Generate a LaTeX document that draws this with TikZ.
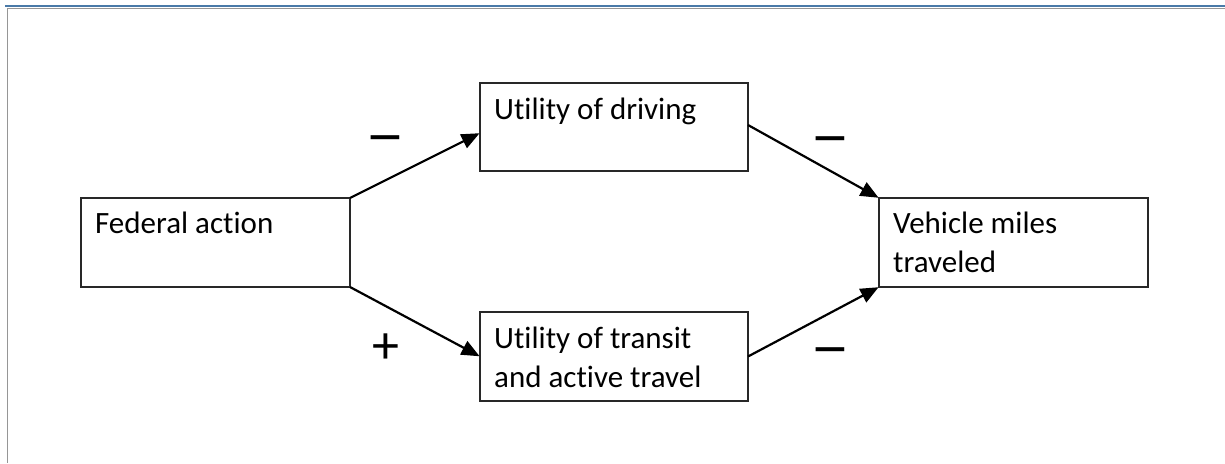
\documentclass[tikz,border=0pt]{standalone}
\usepackage{fontspec}
\setmainfont{Carlito}[Ligatures={NoCommon}]
\usetikzlibrary{arrows.meta,calc}
\definecolor{rulebl}{RGB}{74,122,168}
\definecolor{framegr}{RGB}{150,150,150}
\definecolor{boxln}{RGB}{40,40,40}
\newcommand{\twolines}[2]{\vtop{\baselineskip=39pt\hbox{#1}\hbox{#2}}}
\newcommand{\widedash}{\scalebox{1.25}[1]{–}}
\tikzset{
  box/.style={draw=boxln, line width=1.4pt, minimum width=268pt, minimum height=88pt, inner sep=0pt, outer sep=0pt},
  boxtext/.style={anchor=base west, inner sep=0pt, font=\fontsize{31}{39}\selectfont},
  sign/.style={inner sep=0pt, anchor=base, font=\fontsize{64}{64}\selectfont},
  plussign/.style={inner sep=0pt, font=\fontsize{54}{54}\selectfont},
  conn/.style={line width=2.2pt, -{Triangle[length=18pt,width=15pt]}, shorten >=0.5pt}
}
\begin{document}
\begin{tikzpicture}[x=1pt,y=-1pt]
\useasboundingbox (0,0) rectangle (1225,463);
% frame
\draw[rulebl, line width=2.4pt] (5,6) -- (1225,6);
\draw[framegr, line width=0.8pt] (7,8.2) -- (1225,8.2);
\draw[framegr, line width=1pt] (7.5,8) -- (7.5,463);
% boxes
\node[box, minimum width=269pt, minimum height=89pt] (fa) at (215.5,242.5) {};
\node[box] (ud) at (614,127) {};
\node[box, minimum height=89pt] (ut) at (614,356.5) {};
\node[box, minimum width=269pt, minimum height=89pt] (vm) at (1013.5,242.5) {};
% texts
\node[boxtext] (tfa) at ($(fa.north west)+(14,35)$) {Federal action};
\node[boxtext] (tud) at ($(ud.north west)+(14,36)$) {Utility of driving};
\node[boxtext] (tut) at ($(ut.north west)+(14,36)$) {\twolines{Utility of transit}{and active travel}};
\node[boxtext] (tvm) at ($(vm.north west)+(14,35)$) {\twolines{Vehicle miles}{traveled}};
% connectors
\draw[conn] (fa.north east) -- ($(ud.west)+(0,6)$);
\draw[conn] (fa.south east) -- (ut.west);
\draw[conn] ($(ud.east)+(0,-2)$) -- (vm.north west);
\draw[conn] (ut.east) -- (vm.south west);
% signs
\node[sign] (s1) at (385,155) {\widedash};
\node[plussign] (s2) at (386,349) {+};
\node[sign] (s3) at (830,156) {\widedash};
\node[sign] (s4) at (830,367) {\widedash};
\end{tikzpicture}
\end{document}
